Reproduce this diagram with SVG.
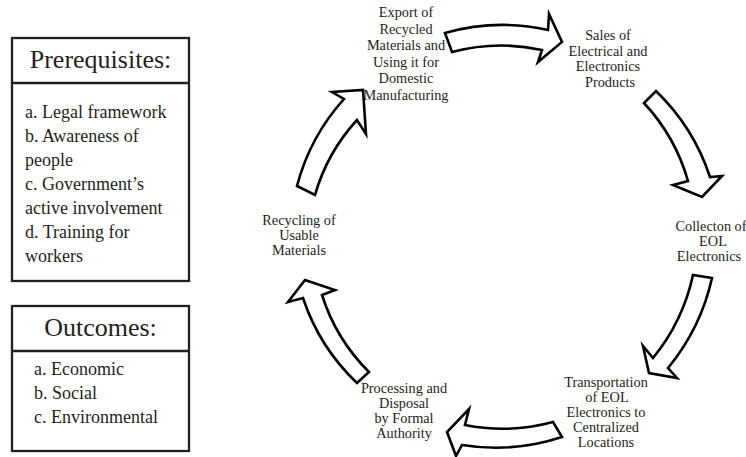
<svg xmlns="http://www.w3.org/2000/svg" width="746" height="457" viewBox="0 0 746 457">
<style>
.box{fill:#fff;stroke:#231f20;stroke-width:2.3}
.div{stroke:#231f20;stroke-width:2.3}
.arr{fill:#fff;stroke:#000;stroke-width:2.6;stroke-linejoin:miter;stroke-miterlimit:10}
text{font-family:"Liberation Serif","Times New Roman",serif;fill:#231f20}
.title{font-size:26px;text-anchor:middle}
.item{font-size:18px}
.lbl{font-size:14.3px;text-anchor:middle}
</style>
<rect width="746" height="457" fill="#fff"/>
<g id="prerequisites">
<rect class="box" x="12" y="38" width="177" height="243"/>
<line class="div" x1="12" y1="83" x2="189" y2="83"/>
<text class="title" x="100.5" y="67.5">Prerequisites:</text>
<text class="item" x="25" y="118">a. Legal framework</text>
<text class="item" x="25" y="142">b. Awareness of</text>
<text class="item" x="25" y="166">people</text>
<text class="item" x="25" y="190">c. Government’s</text>
<text class="item" x="25" y="214">active involvement</text>
<text class="item" x="25" y="238">d. Training for</text>
<text class="item" x="25" y="262">workers</text>
</g>
<g id="outcomes">
<rect class="box" x="12" y="306" width="177" height="145"/>
<line class="div" x1="12" y1="351" x2="189" y2="351"/>
<text class="title" x="100.5" y="335.5">Outcomes:</text>
<text class="item" x="34" y="375">a. Economic</text>
<text class="item" x="34" y="399">b. Social</text>
<text class="item" x="34" y="423">c. Environmental</text>
</g>
<g id="export">
<text class="lbl" x="406" y="17">Export of</text>
<text class="lbl" x="406" y="33.5">Recycled</text>
<text class="lbl" x="406" y="50">Materials and</text>
<text class="lbl" x="406" y="66.5">Using it for</text>
<text class="lbl" x="406" y="83">Domestic</text>
<text class="lbl" x="406" y="99.5">Manufacturing</text>
</g>
<g id="sales">
<text class="lbl" x="608" y="40">Sales of</text>
<text class="lbl" x="608" y="55.5">Electrical and</text>
<text class="lbl" x="608" y="71">Electronics</text>
<text class="lbl" x="610" y="86.5">Products</text>
</g>
<g id="collection">
<text class="lbl" x="711" y="231">Collecton of</text>
<text class="lbl" x="713" y="246">EOL</text>
<text class="lbl" x="709" y="261">Electronics</text>
</g>
<g id="transportation">
<text class="lbl" x="606" y="386.5">Transportation</text>
<text class="lbl" x="607" y="401.5">of EOL</text>
<text class="lbl" x="606" y="416.5">Electronics to</text>
<text class="lbl" x="606" y="431.5">Centralized</text>
<text class="lbl" x="606" y="446.5">Locations</text>
</g>
<g id="processing">
<text class="lbl" x="404" y="393">Processing and</text>
<text class="lbl" x="404" y="408">Disposal</text>
<text class="lbl" x="404" y="423">by Formal</text>
<text class="lbl" x="404" y="438">Authority</text>
</g>
<g id="recycling">
<text class="lbl" x="299" y="225">Recycling of</text>
<text class="lbl" x="299" y="240">Usable</text>
<text class="lbl" x="299" y="255">Materials</text>
</g>
<g id="connectors">
<path class="arr" d="M445,33 A210,210 0 0 1 548,30 L549,14 L562,42 L538,62 L542,50 A190,190 0 0 0 452,52 Z"/>
<path class="arr" d="M656,91 A212,212 0 0 1 710,177 L722,176 L702,197 L673,185 L688,181 A192,192 0 0 0 644,103 Z"/>
<path class="arr" d="M712,278 A215,215 0 0 1 668,368 L677,378 L649,373 L643,346 L653,358 A197,197 0 0 0 693,275 Z"/>
<path class="arr" d="M562,437 A212,212 0 0 1 462,445 L456,456 L447,432 L469,409 L465,425 A193,193 0 0 0 553,422 Z"/>
<path class="arr" d="M357,383 A207,207 0 0 1 303,298 L288,302 L305,280 L335,290 L322,295 A189,189 0 0 0 369,372 Z"/>
<path class="arr" d="M297,186 A209,209 0 0 1 344,99 L332,92 L363,90 L366,134 L357,120 A187,187 0 0 0 315,195 Z"/>
</g>
</svg>
